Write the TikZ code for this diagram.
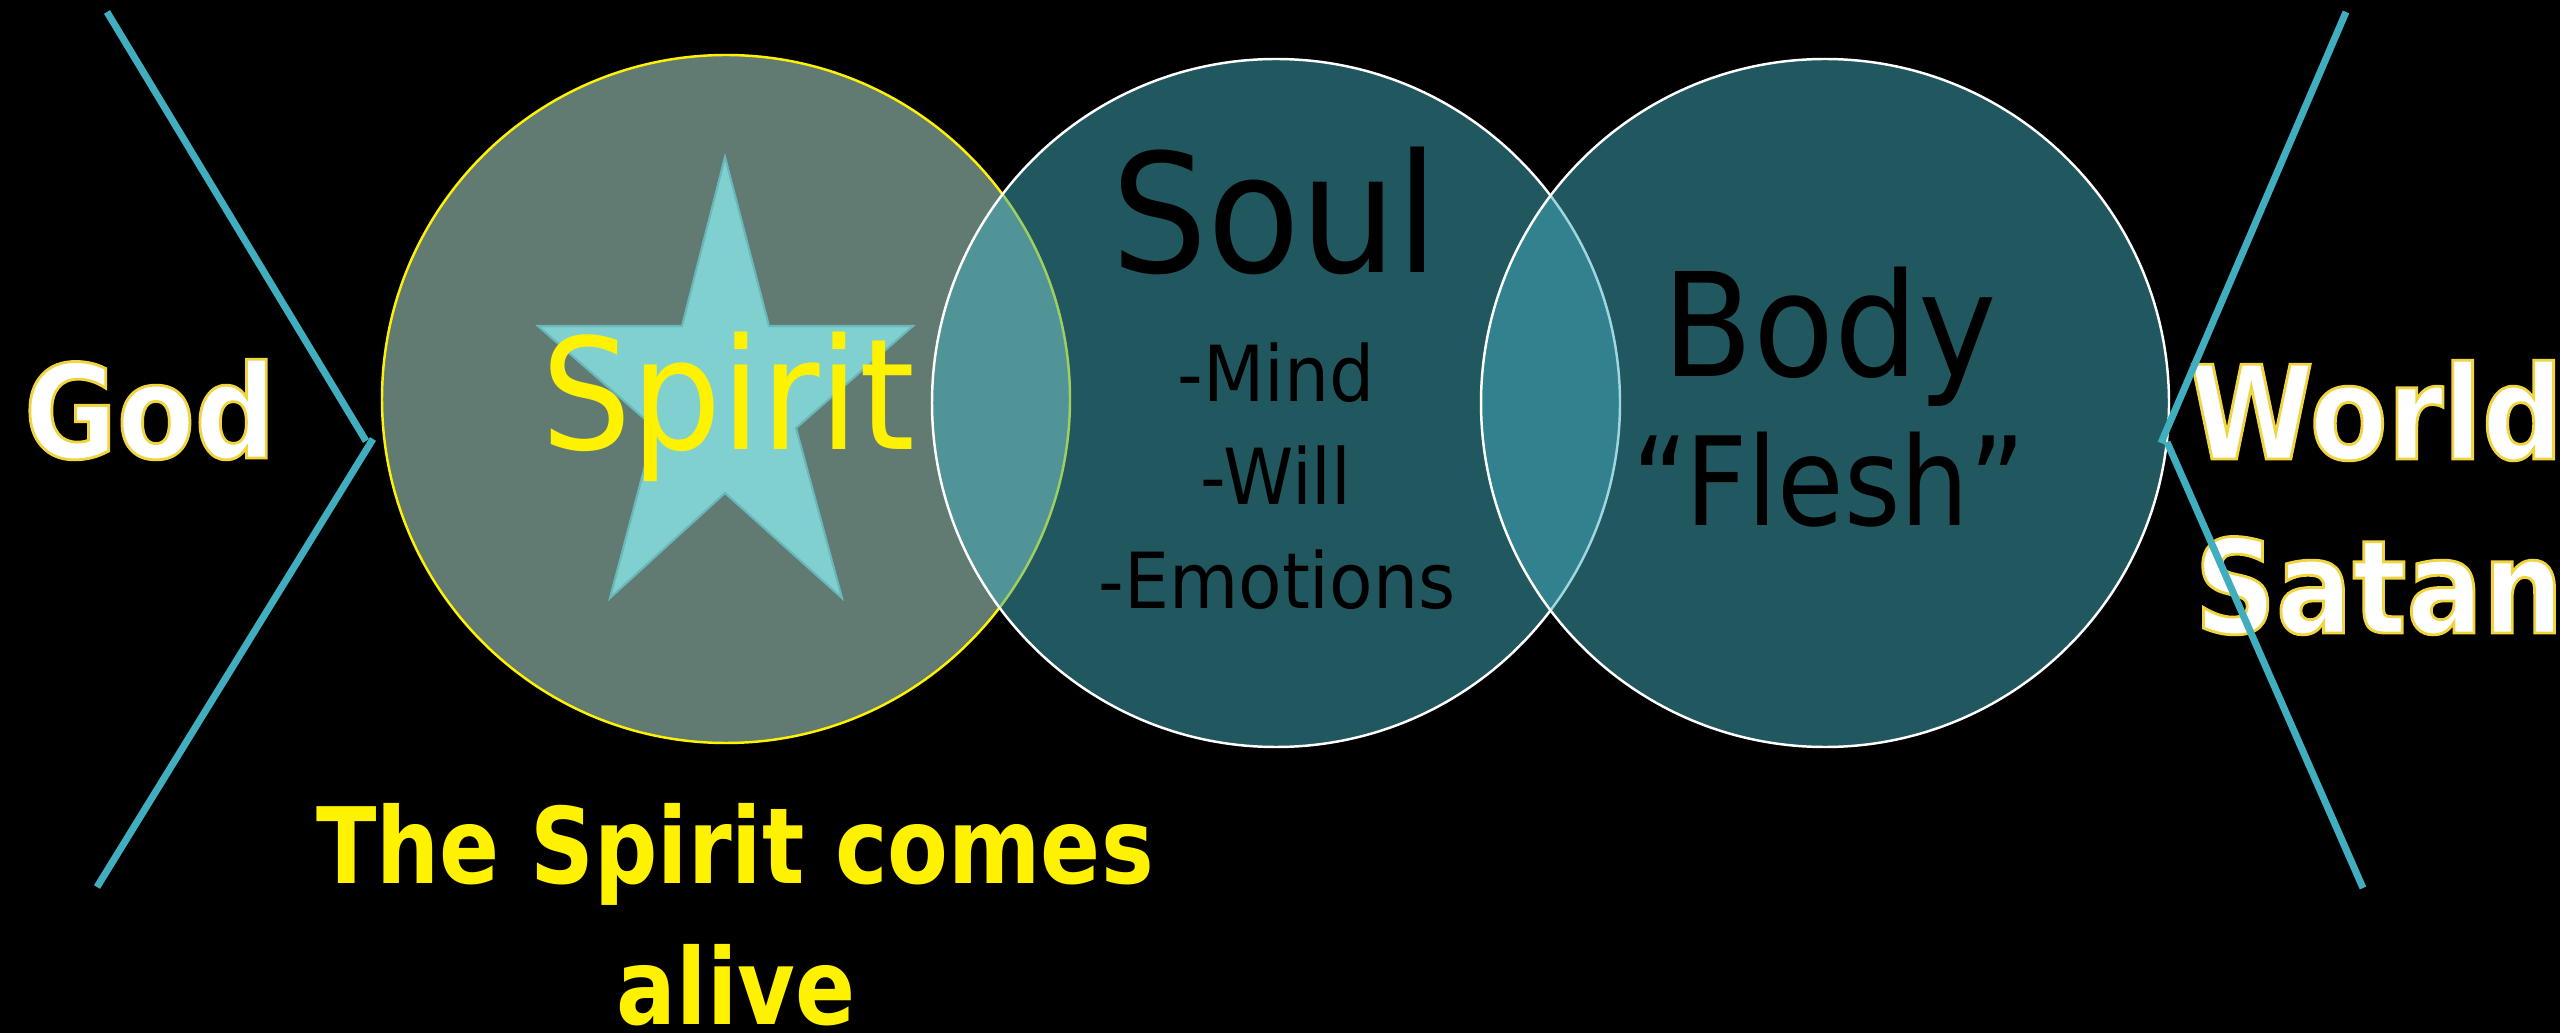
\documentclass[tikz,border=0pt]{standalone}
\usepackage{fontspec}
\newfontfamily\regf[FakeStretch=0.92]{DejaVu Sans}
\newfontfamily\regn[FakeStretch=0.88]{DejaVu Sans}
\newfontfamily\boldf[FakeStretch=0.87]{DejaVu Sans}
\newfontfamily\boldn[FakeStretch=0.84]{DejaVu Sans}
\newcommand\outltxt[1]{\special{pdf:code 2 Tr 0.8 w 0.941 0.831 0.251 RG}#1\special{pdf:code 0 Tr}}
\definecolor{linec}{RGB}{64,174,190}
\definecolor{spiritfill}{RGB}{97,122,114}
\definecolor{tealc}{RGB}{66,174,190}
\definecolor{starfill}{RGB}{128,208,208}
\definecolor{stardraw}{RGB}{104,184,188}
\begin{document}
\begin{tikzpicture}[x=0.1mm,y=-0.1mm,
  every node/.style={inner sep=0pt, outer sep=0pt},
  circ/.style={circle, minimum size=68.8mm, line width=0.7pt},
  spiritc/.style={circ, fill=spiritfill, draw=yellow},
  tealcirc/.style={circ, fill=tealc, fill opacity=0.5, draw=white, draw opacity=1},
  conn/.style={draw=linec, line width=2pt},
  startxt/.style={draw=stardraw, fill=starfill, line width=0.6pt, line join=miter},
  dark/.style={anchor=base, text=black},
  outlined/.style={anchor=base, text=white, font=\boldf\bfseries\fontsize{37pt}{44pt}\selectfont},
  yellowbold/.style={anchor=base, text=yellow, font=\boldn\bfseries\fontsize{30pt}{36pt}\selectfont}
]
\fill[black] (0,0) rectangle (2560,1033);
\path[use as bounding box] (0,0) rectangle (2560,1033);

% Spirit circle
\node[spiritc] (c1) at (726,399) {};
% star
\draw[startxt] (725,157) -- (769,326) -- (913,326) -- (796,428) -- (842,598)
  -- (725,493) -- (610,598) -- (655,428) -- (538,326) -- (682,326) -- cycle;
\node[anchor=base, text=yellow, font=\regf\fontsize{44pt}{50pt}\selectfont] (spirit) at (728,450) {Spirit};

% Soul and Body circles
\node[tealcirc] (c2) at (1276,403) {};
\node[tealcirc] (c3) at (1825,403) {};

% Soul texts
\node[dark, font=\regf\fontsize{47pt}{54pt}\selectfont] (soul) at (1275,273) {Soul};
\node[dark, font=\regf\fontsize{22pt}{26pt}\selectfont] (mind) at (1276,402) {-Mind};
\node[dark, font=\regf\fontsize{22pt}{26pt}\selectfont] (will) at (1276,505) {-Will};
\node[dark, font=\regf\fontsize{22pt}{26pt}\selectfont] (emotions) at (1277,608) {-Emotions};

% Body texts
\node[dark, font=\regf\fontsize{41pt}{48pt}\selectfont] (body) at (1830,377) {Body};
\node[dark, font=\regn\fontsize{35pt}{42pt}\selectfont] (flesh) at (1829,526) {“Flesh”};

% Outer labels
\node[outlined] (god) at (150,458) {\outltxt{God}};
\node[outlined] (world) at (2376,459) {\outltxt{World}};
\node[outlined] (satan) at (2379,633) {\outltxt{Satan}};

% Bottom caption
\node[yellowbold] (cap1) at (735,883) {The Spirit comes};
\node[yellowbold, text depth=0pt] (cap2) at (736,1024) {alive};

% Connector lines
\coordinate (lt) at (107,12);
\coordinate (lm1) at (366,441);
\coordinate (lm2) at (373,439);
\coordinate (lb) at (97,887);
\coordinate (rt) at (2346,12);
\coordinate (rm1) at (2161,443);
\coordinate (rm2) at (2167,442);
\coordinate (rb) at (2363,888);
\draw[conn] (lt) -- (lm1);
\draw[conn] (lm2) -- (lb);
\draw[conn] (rt) -- (rm1);
\draw[conn] (rm2) -- (rb);
\end{tikzpicture}
\end{document}
